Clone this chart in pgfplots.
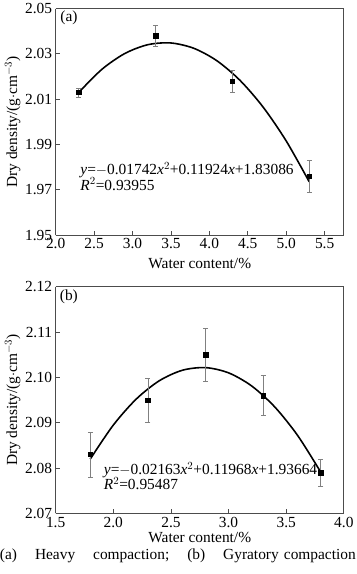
\documentclass[border=0pt]{standalone}
\usepackage{pgfplots}
\pgfplotsset{compat=1.18}
\usepackage{fontspec}
\setmainfont{Liberation Serif}
\begin{document}
\begin{tikzpicture}
\pgfplotsset{
  every axis/.append style={
    scale only axis, width=290pt, height=228pt,
    axis line style={gray!60!black, line width=0.8pt},
    tick style={gray!60!black, line width=0.8pt},
    axis x line*=bottom, axis y line*=left,
    tick align=inside, major tick length=4pt,
    font=\fontsize{15.5}{18}\selectfont,
    tick label style={font=\fontsize{15.5}{18}\selectfont},
    /pgf/number format/assume math mode=true,
    /pgf/number format/fixed, /pgf/number format/fixed zerofill,
    xlabel={Water content/\%},
    ylabel={Dry density/(g$\cdot$cm$^{-3}$)},
    ylabel style={at={(axis description cs:-0.149,0.5)}, anchor=center},
    clip=false,
  },
}
\begin{axis}[
  name=a,
  xmin=2.0, xmax=5.75, ymin=1.95, ymax=2.05,
  xtick={2.0,2.5,...,5.5},
  ytick={1.95,1.97,...,2.05},
  x tick label style={/pgf/number format/precision=1},
  y tick label style={/pgf/number format/precision=2},
  xlabel style={at={(axis description cs:0.5,0)}, anchor=center, yshift=-29pt},
]
\draw[gray!60!black, line width=0.8pt] (rel axis cs:0,1) -- (rel axis cs:1,1) -- (rel axis cs:1,0);
\addplot[black, line width=1.6pt, smooth] coordinates {
(2.3,2.01296) (2.6,2.023125) (2.9,2.030154) (3.2,2.034047) (3.5,2.034805)
(3.8,2.032427) (4.1,2.026914) (4.4,2.018265) (4.7,2.00648) (5.0,1.99156) (5.3,1.973504)};
\addplot[only marks, mark=square*, mark size=2.2pt, black,
  error bars/.cd, y dir=both, y explicit,
  error bar style={gray, line width=0.6pt},
  error mark options={rotate=90, gray, mark size=2.5pt, line width=0.6pt}]
  coordinates {
  (2.3,2.013) +- (0,0.002)
  (3.3,2.038) +- (0,0.0047)
  (4.3,2.018) +- (0,0.0048)
  (5.3,1.976) +- (0,0.007)
};
\node[anchor=west, inner sep=0pt, font=\fontsize{15.5}{18}\selectfont] at (axis cs:2.32,1.9785) {\textit{y}=$-$0.01742\textit{x}$^2$+0.11924\textit{x}+1.83086};
\node[anchor=west, inner sep=0pt, font=\fontsize{15.5}{18}\selectfont] at (axis cs:2.32,1.9725) {\textit{R}$^2$=0.93955};
\node[anchor=west, inner sep=0pt] at (axis cs:2.06,2.0457) {(a)};
\end{axis}
\begin{axis}[
  at={(0pt,-280pt)},
  xmin=1.5, xmax=4.0, ymin=2.07, ymax=2.12,
  xtick={1.5,2.0,...,4.0},
  ytick={2.07,2.08,...,2.12},
  x tick label style={/pgf/number format/precision=1},
  y tick label style={/pgf/number format/precision=2},
  xlabel style={at={(axis description cs:0.5,0)}, anchor=center, yshift=-24pt},
]
\draw[gray!60!black, line width=0.8pt] (rel axis cs:0,1) -- (rel axis cs:1,1) -- (rel axis cs:1,0);
\addplot[black, line width=1.6pt, smooth] coordinates {
(1.8,2.081983) (2.0,2.08948) (2.2,2.095247) (2.4,2.099283) (2.6,2.101589)
(2.8,2.102165) (3.0,2.10101) (3.2,2.098125) (3.4,2.093509) (3.6,2.087163) (3.8,2.079087)};
\addplot[only marks, mark=square*, mark size=2.2pt, black,
  error bars/.cd, y dir=both, y explicit,
  error bar style={gray, line width=0.6pt},
  error mark options={rotate=90, gray, mark size=2.5pt, line width=0.6pt}]
  coordinates {
  (1.8,2.083) +- (0,0.005)
  (2.3,2.095) +- (0,0.0048)
  (2.8,2.105) +- (0,0.0058)
  (3.3,2.096) +- (0,0.0044)
  (3.8,2.079) +- (0,0.003)
};
\node[anchor=west, inner sep=0pt, font=\fontsize{15.5}{18}\selectfont] at (axis cs:1.917,2.0796) {\textit{y}=$-$0.02163\textit{x}$^2$+0.11968\textit{x}+1.93664};
\node[anchor=west, inner sep=0pt, font=\fontsize{15.5}{18}\selectfont] at (axis cs:1.917,2.0766) {\textit{R}$^2$=0.95487};
\node[anchor=west, inner sep=0pt] at (axis cs:1.535,2.1178) {(b)};
\end{axis}
\node[text width=358pt, inner sep=0pt, font=\fontsize{15.5}{18}\selectfont] at (123pt,-323pt)
  {(a)\hfill Heavy\hfill compaction;\hfill (b)\hfill Gyratory compaction};
\useasboundingbox (-56pt,-341pt) rectangle (302pt,233pt);
\end{tikzpicture}
\end{document}
